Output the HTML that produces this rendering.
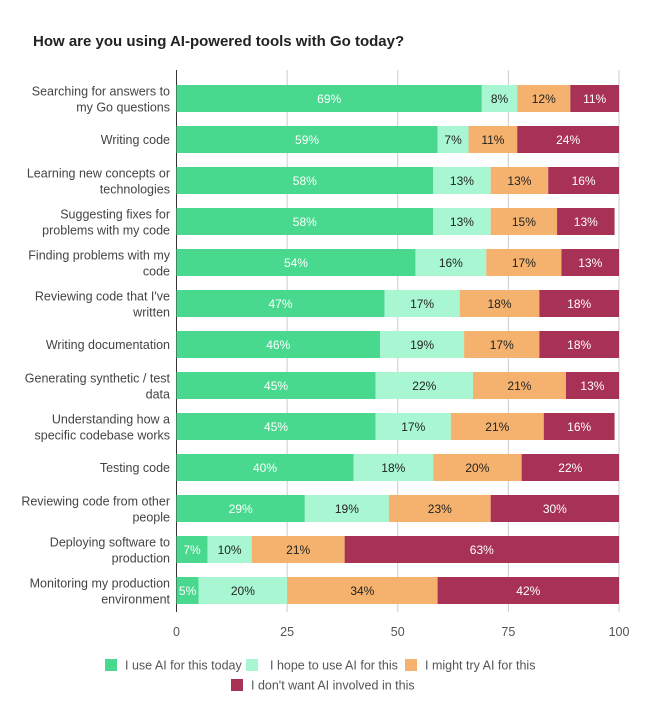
<!DOCTYPE html>
<html><head><meta charset="utf-8"><style>
body{margin:0;background:#fff;font-family:"Liberation Sans",sans-serif}
</style></head><body>
<svg id="c" width="652" height="718" xmlns="http://www.w3.org/2000/svg">
<text x="33" y="46" font-size="15" font-weight="bold" fill="#222">How are you using AI-powered tools with Go today?</text>
</svg>
<script>
const categories=[["Searching for answers to","my Go questions"],["Writing code"],["Learning new concepts or","technologies"],["Suggesting fixes for","problems with my code"],["Finding problems with my","code"],["Reviewing code that I've","written"],["Writing documentation"],["Generating synthetic / test","data"],["Understanding how a","specific codebase works"],["Testing code"],["Reviewing code from other","people"],["Deploying software to","production"],["Monitoring my production","environment"]];
const useToday=[69,59,58,58,54,47,46,45,45,40,29,7,5];
const hopeTo=[8,7,13,13,16,17,19,22,17,18,19,10,20];
const mightTry=[12,11,13,15,17,18,17,21,21,20,23,21,34];
const dontWant=[11,24,16,13,13,18,18,13,16,22,30,63,42];
const seriesNames=["I use AI for this today","I hope to use AI for this","I might try AI for this","I don't want AI involved in this"];
const ticks=[0,25,50,75,100];
const colors=["#48d98e","#a9f7d2","#f4b26e","#a83255"];
const textCol=["#fff","#222","#222","#fff"];
const svg=document.getElementById('c');const NS="http://www.w3.org/2000/svg";
const x0=176.5,x1=619,top0=85,step=41,bh=27;
const X=v=>x0+(x1-x0)*Math.min(v,100)/100;
const Y=i=>top0+i*step;
function mk(t,a,p){const e=document.createElementNS(NS,t);for(const k in a)e.setAttribute(k,a[k]);(p||svg).appendChild(e);return e;}
ticks.forEach(t=>{
 const g=mk('line',{x1:X(t),x2:X(t),y1:70,y2:612,stroke:t===0?'#333':'#ccc','stroke-width':1});
 
 
 const l=mk('text',{x:X(t),y:636,'font-size':12.5,fill:'#555','text-anchor':'middle'});l.textContent=t;
 
 
});
const series=[useToday,hopeTo,mightTry,dontWant];
categories.forEach((c,i)=>{
 const y=Y(i);
 const lab=mk('text',{x:170,'font-size':12.5,fill:'#444','text-anchor':'end'});
 
 
 const cy=y+bh/2;
 c.forEach((line,k)=>{const ts=mk('tspan',{x:170,y:c.length===1?cy+4.5:cy-3+k*16},lab);ts.textContent=line;});
 let acc=0;
 series.forEach((s,j)=>{
  const v=s[i];
  const r=mk('rect',{x:X(acc),y:y,width:Math.max(0,X(acc+v)-X(acc)),height:bh,fill:colors[j]});
  
  
  const t=mk('text',{x:(X(acc)+X(acc+v))/2,y:cy+4.5,'font-size':12,fill:textCol[j],'text-anchor':'middle'});
  t.textContent=v+'%';
  
  
  acc+=v;
 });
});
const leg=[[105,665,125],[246,665,270],[405,665,425],[231,685,251]];
seriesNames.forEach((n,j)=>{
 const [sx,sy,tx]=leg[j];
 const r=mk('rect',{x:sx,y:sy-6,width:12,height:12,fill:colors[j]});
 
 
 const t=mk('text',{x:tx,y:sy+4.5,'font-size':12.5,fill:'#555'});t.textContent=n;
 
 
});
</script>
</body></html>
